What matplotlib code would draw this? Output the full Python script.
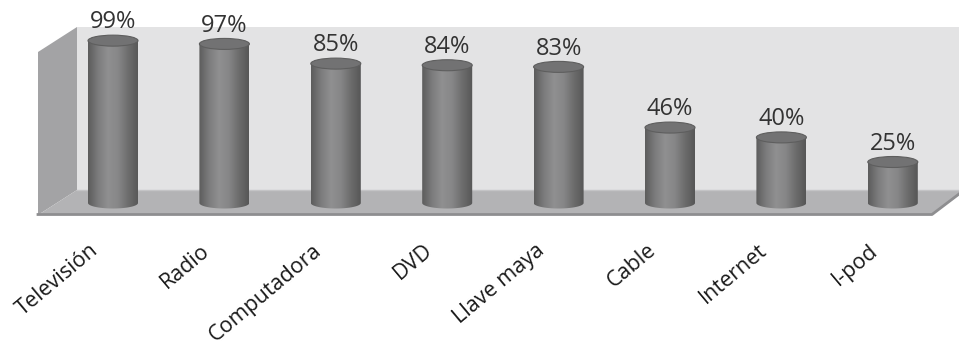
# -*- coding: utf-8 -*-
import numpy as np
import matplotlib
matplotlib.use('Agg')
import matplotlib.pyplot as plt
from matplotlib.patches import Polygon, Ellipse, PathPatch
from matplotlib.path import Path
from matplotlib.colors import LinearSegmentedColormap

# datos del grafico
categorias = ['Televisión', 'Radio', 'Computadora', 'DVD', 'Llave maya', 'Cable', 'Internet', 'I-pod']
porcentajes = [99, 97, 85, 84, 83, 46, 40, 25]
etiquetas = ['99%', '97%', '85%', '84%', '83%', '46%', '40%', '25%']

plt.rcParams['font.family'] = ['Open Sans', 'DejaVu Sans']

# escala: 1 categoria = 111.4 px, 1% = 1.64 px, base en y=203 px
X0, PASO = 113.0, 111.4
BASE, K = 203.0, 1.64
W, H = 959, 345

def px2x(px):
    return (px - X0) / PASO

def px2y(py):
    return (BASE - py) / K

fig = plt.figure(figsize=(W / 100, H / 100), dpi=100)
ax = fig.add_axes([0, 0, 1, 1])
ax.set_xlim(px2x(0), px2x(W))
ax.set_ylim(px2y(H), px2y(0))
ax.axis('off')

def poly(pts, **kw):
    ax.add_patch(Polygon([(px2x(a), px2y(b)) for a, b in pts], closed=True, **kw))

# paredes y piso
poly([(77, 27), (W, 27), (W, 190), (77, 190)], facecolor='#e3e3e4', edgecolor='none', zorder=1)
poly([(38, 52), (77, 27), (77, 190), (38, 215)], facecolor='#a3a3a5', edgecolor='none', zorder=1)
poly([(38, 215), (77, 190), (W, 190), (W, 195), (932, 215)], facecolor='#b3b3b5', edgecolor='none', zorder=2)
ax.plot([px2x(38), px2x(932), px2x(W)], [px2y(214.5), px2y(214.5), px2y(194)], color='#8e8e90', lw=2, zorder=3)
ax.plot([px2x(77), px2x(W)], [px2y(190), px2y(190)], color='#c4c4c6', lw=1, zorder=3)

# cilindros
cmap = LinearSegmentedColormap.from_list('cil', ['#5c5c5c', '#7c7c7d', '#909091', '#868687', '#6c6c6c', '#575757'])
grad = np.linspace(0, 1, 200).reshape(1, -1)
ancho = 50 / PASO
alto_e = 11 / K

for i, v in enumerate(porcentajes):
    x0, x1 = i - ancho / 2, i + ancho / 2
    t = np.linspace(np.pi, 2 * np.pi, 40)
    verts = [(x0, v), (x0, 0)]
    verts += list(zip(i + ancho / 2 * np.cos(t), alto_e / 2 * np.sin(t)))
    verts += [(x1, 0), (x1, v), (x0, v)]
    codes = [Path.MOVETO] + [Path.LINETO] * (len(verts) - 2) + [Path.CLOSEPOLY]
    cuerpo = PathPatch(Path(verts, codes), facecolor='none', edgecolor='none', zorder=4)
    ax.add_patch(cuerpo)
    im = ax.imshow(grad, cmap=cmap, aspect='auto', extent=[x0, x1, -alto_e, v], zorder=4)
    im.set_clip_path(cuerpo)
    ax.add_patch(Ellipse((i, v), ancho, alto_e, facecolor='#727273', edgecolor='#5e5e5e', lw=0.8, zorder=5))
    ax.annotate(etiquetas[i], (i, v + alto_e / 2), xytext=(0, 0.5), textcoords='offset points',
                ha='center', va='bottom', fontsize=17, color='#333333', zorder=6)
    ax.text(i - 17 / PASO, px2y(248), categorias[i], rotation=40, rotation_mode='anchor',
            ha='right', va='center', fontsize=15.5, color='#1a1a1a')

fig.savefig('out.png', dpi=100)
